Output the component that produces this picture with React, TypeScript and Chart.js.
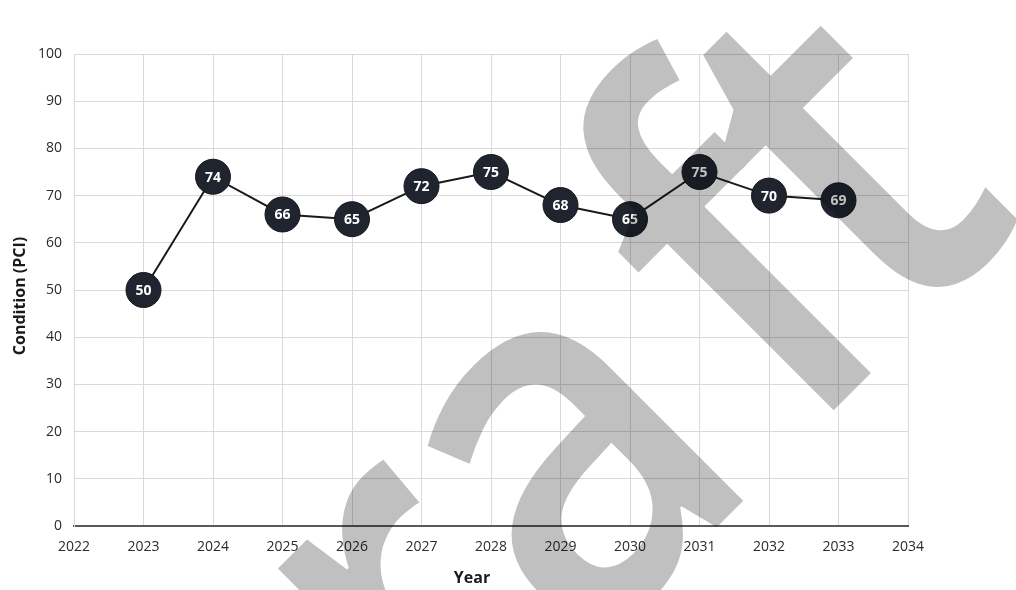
import React, { useEffect, useRef } from "react";
import { Chart, registerables } from "chart.js";

Chart.register(...registerables);

const years = [2023, 2024, 2025, 2026, 2027, 2028, 2029, 2030, 2031, 2032, 2033];
const pciValues = [50, 74, 66, 65, 72, 75, 68, 65, 75, 70, 69];
const xAxisTitle = "Year";
const yAxisTitle = "Condition (PCI)";
const watermarkLetters = ["D", "r", "a", "f", "t"];

const FONT = "'Open Sans', 'DejaVu Sans', sans-serif";

const valueLabelPlugin = {
  id: "valueLabels",
  afterDatasetsDraw(chart: any) {
    const ctx = chart.ctx;
    const meta = chart.getDatasetMeta(0);
    ctx.save();
    ctx.fillStyle = "#ffffff";
    ctx.font = `bold 14px ${FONT}`;
    ctx.textAlign = "center";
    ctx.textBaseline = "middle";
    meta.data.forEach((pt: any, i: number) => {
      ctx.fillText(String(pciValues[i]), pt.x, pt.y + 1);
    });
    ctx.restore();
  },
};

// axis titles, placed as in the reference (slightly off the plot centre)
const axisTitlePlugin = {
  id: "axisTitles",
  afterDraw(chart: any) {
    const ctx = chart.ctx;
    ctx.save();
    ctx.fillStyle = "#1a1a1a";
    ctx.font = `bold 16px ${FONT}`;
    ctx.textAlign = "center";
    ctx.textBaseline = "middle";
    ctx.fillText(xAxisTitle, 472, 578);
    ctx.translate(20, 296);
    ctx.rotate(-Math.PI / 2);
    ctx.fillText(yAxisTitle, 0, 0);
    ctx.restore();
  },
};

// watermark letter starts along the rotated baseline (px)
const WM_STARTS = [-580, -243, -58, 251, 396];
const WM_SCALE_X = 0.88;

const watermarkPlugin = {
  id: "watermark",
  afterDraw(chart: any) {
    const ctx = chart.ctx;
    const off = document.createElement("canvas");
    off.width = chart.width;
    off.height = chart.height;
    const o = off.getContext("2d");
    if (!o) return;
    o.fillStyle = "#c0c0c0";
    o.translate(622, 622);
    o.rotate(-Math.PI / 4);
    o.scale(WM_SCALE_X, 1);
    o.font = `600 520px 'Open Sans', sans-serif`;
    o.textAlign = "left";
    o.textBaseline = "alphabetic";
    watermarkLetters.forEach((ch, i) => {
      o.fillText(ch, WM_STARTS[i] / WM_SCALE_X, 0);
    });
    ctx.save();
    ctx.setTransform(1, 0, 0, 1, 0, 0);
    ctx.globalCompositeOperation = "multiply";
    ctx.drawImage(off, 0, 0);
    ctx.restore();
  },
};

export default function App() {
  const canvasRef = useRef<HTMLCanvasElement | null>(null);

  useEffect(() => {
    document.body.style.margin = "0";
    const canvas = canvasRef.current;
    if (!canvas) return;
    const chart = new Chart(canvas, {
      type: "line",
      data: {
        datasets: [
          {
            data: years.map((y, i) => ({ x: y, y: pciValues[i] })),
            borderColor: "#1a1a1a",
            borderWidth: 2,
            tension: 0,
            pointRadius: 17.5,
            pointHoverRadius: 17.5,
            pointBackgroundColor: "#20242e",
            pointBorderColor: "#14171d",
            pointBorderWidth: 1,
          },
        ],
      },
      options: {
        animation: false,
        responsive: false,
        maintainAspectRatio: false,
        events: [],
        layout: { padding: { left: 0, top: 54, right: 108, bottom: 0 } },
        plugins: {
          legend: { display: false },
          tooltip: { enabled: false },
          title: { display: false },
        },
        scales: {
          x: {
            type: "linear",
            min: 2022,
            max: 2034,
            afterFit: (s: any) => {
              s.height = 64;
            },
            ticks: {
              stepSize: 1,
              callback: (v: any) => String(v),
              color: "#2b2b2b",
              font: { family: FONT, size: 14 },
              padding: 13,
              maxRotation: 0,
            },
            grid: { color: "#d9d9d9", lineWidth: 1, drawTicks: false },
            border: { color: "#595959", width: 2 },
            title: { display: false, text: xAxisTitle },
          },
          y: {
            min: 0,
            max: 100,
            afterFit: (s: any) => {
              s.width = 74;
            },
            ticks: {
              stepSize: 10,
              color: "#2b2b2b",
              font: { family: FONT, size: 14 },
              padding: 12,
            },
            grid: { color: "#d9d9d9", lineWidth: 1, drawTicks: false },
            border: { color: "#d9d9d9", width: 1 },
            title: { display: false, text: yAxisTitle },
          },
        },
      },
      plugins: [valueLabelPlugin, axisTitlePlugin, watermarkPlugin],
    } as any);
    return () => chart.destroy();
  }, []);

  return (
    <div style={{ position: "fixed", left: 0, top: 0, width: 1016, height: 590, background: "#fff" }}>
      <canvas ref={canvasRef} width={1016} height={590} style={{ width: 1016, height: 590 }} />
    </div>
  );
}
